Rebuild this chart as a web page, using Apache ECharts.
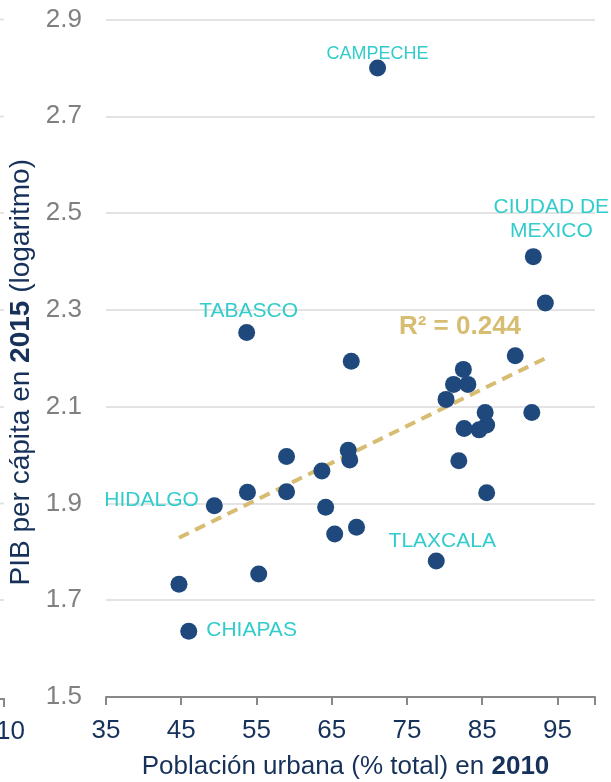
<!DOCTYPE html>
<html>
<head>
<meta charset="utf-8">
<script src="https://cdn.jsdelivr.net/npm/echarts@6/dist/echarts.min.js"></script>
<style>
  html, body { margin: 0; padding: 0; background: #ffffff; }
  #chart { width: 611px; height: 782px; }
</style>
</head>
<body>
<div id="chart"></div>
<script>
// ---- Data ----
const urbanPop = [71.1, 91.8, 93.4, 53.7, 67.6, 89.4, 82.5, 81.2, 83.1, 80.2, 85.4, 91.6, 85.6, 82.6, 84.6, 81.9, 85.6, 59.0, 67.2, 67.4, 63.7, 53.8, 59.0, 49.4, 64.2, 68.3, 65.4, 78.9, 55.3, 44.7, 46.0];
const gdpLog   = [2.800, 2.410, 2.314, 2.253, 2.194, 2.205, 2.177, 2.146, 2.146, 2.115, 2.088, 2.088, 2.062, 2.055, 2.052, 1.988, 1.922, 1.997, 2.010, 1.990, 1.967, 1.923, 1.924, 1.895, 1.892, 1.851, 1.837, 1.781, 1.754, 1.733, 1.636];
const stateLabels = ['CAMPECHE', 'CIUDAD DE\nMEXICO', '', 'TABASCO', '', '', '', '', '', '', '', '', '', '', '', '', '', '', '', '', '', '', '', 'HIDALGO', '', '', '', 'TLAXCALA', '', '', 'CHIAPAS'];
const trendX = [44.7, 93.4];
const trendY = [1.829, 2.200];
const rSquaredText = 'R² = 0.244';
const yTicks = [1.5, 1.7, 1.9, 2.1, 2.3, 2.5, 2.7, 2.9];
const xTicks = [35, 45, 55, 65, 75, 85, 95];

// ---- Styles ----
const FONT = 'Arial, "Liberation Sans", sans-serif';
const NAVY = '#1F497D';
const CYAN = '#33CCCC';
const TAN = '#D7BD72';
const labelStyle = {
  'CAMPECHE': { position: 'inside', offset: [0, -14], fontSize: 18 },
  'CIUDAD DE\nMEXICO': { position: 'inside', offset: [18, -37], fontSize: 21, lineHeight: 24 },
  'TABASCO': { position: 'inside', offset: [2, -21], fontSize: 21 },
  'HIDALGO': { position: 'left', distance: 7, offset: [0, -6], fontSize: 21 },
  'TLAXCALA': { position: 'inside', offset: [6, -20], fontSize: 21 },
  'CHIAPAS': { position: 'right', distance: 9, offset: [0, -1], fontSize: 21 }
};

const scatterData = urbanPop.map((x, i) => {
  const name = stateLabels[i];
  const item = { value: [x, gdpLog[i]], name: name };
  if (name) {
    const s = labelStyle[name];
    item.label = Object.assign({ show: true, formatter: '{b}', color: CYAN, fontFamily: FONT, align: 'center', verticalAlign: 'middle' }, s);
    if (s.position === 'left') item.label.align = 'right';
    if (s.position === 'right') item.label.align = 'left';
  }
  return item;
});
const trendData = trendX.map((x, i) => [x, trendY[i]]);

const chart = echarts.init(document.getElementById('chart'), null, { renderer: 'canvas' });

// left-edge fragments of the neighbouring chart
const fragLines = [19.5, 116.5, 213, 310, 407, 503.5, 600].map(y => ({
  type: 'line', shape: { x1: 0, y1: y, x2: 4, y2: y }, style: { stroke: '#E3E3E3', lineWidth: 2 }, silent: true
}));

chart.setOption({
  animation: false,
  backgroundColor: '#ffffff',
  grid: { left: 106, right: 16, top: 19.5, bottom: 85, containLabel: false, outerBoundsMode: 'none' },
  xAxis: {
    type: 'value', min: 35, max: 100, interval: 10,
    name: 'Población urbana (% total) en {b|2010}',
    nameLocation: 'middle', nameGap: 57,
    nameTextStyle: { fontSize: 26, color: '#17325A', fontFamily: FONT, padding: [0, 10, 0, 0], rich: { b: { fontSize: 26, fontWeight: 'bold', color: '#17325A', fontFamily: FONT } } },
    axisLine: { show: true, onZero: false, lineStyle: { color: '#888888', width: 2 } },
    axisTick: { show: true, length: 8, lineStyle: { color: '#888888', width: 2 } },
    axisLabel: { fontSize: 26, color: '#17325A', fontFamily: FONT, margin: 21, formatter: v => (xTicks.indexOf(v) >= 0 ? String(v) : '') },
    splitLine: { show: false }
  },
  yAxis: {
    type: 'value', min: 1.5, max: 2.9, interval: 0.2,
    name: 'PIB per cápita en {b|2015} (logaritmo)',
    nameLocation: 'middle', nameGap: 60, nameRotate: 90,
    nameTextStyle: { fontSize: 28, color: '#17325A', fontFamily: FONT, padding: [0, 28, 0, 0], rich: { b: { fontSize: 28, fontWeight: 'bold', color: '#17325A', fontFamily: FONT } } },
    axisLine: { show: false },
    axisTick: { show: false },
    axisLabel: { fontSize: 26, color: '#808080', fontFamily: FONT, margin: 24, formatter: v => { const t = yTicks.find(k => Math.abs(k - v) < 1e-6); return t !== undefined ? t.toFixed(1) : ''; } },
    splitLine: { show: true, lineStyle: { color: '#E3E3E3', width: 2 } }
  },
  series: [
    {
      type: 'line', data: trendData, showSymbol: false, z: 2,
      lineStyle: { color: TAN, width: 4, type: [11, 7] }, silent: true
    },
    {
      type: 'scatter', data: scatterData, symbolSize: 17, z: 3,
      itemStyle: { color: NAVY, opacity: 1 },
      label: { show: false }
    }
  ],
  graphic: [
    { type: 'text', x: 460, y: 327, style: { text: rSquaredText, font: 'bold 26px ' + FONT, fill: TAN, textAlign: 'center', textVerticalAlign: 'middle' }, silent: true },
    { type: 'text', x: 25, y: 732, style: { text: '10', font: '26px ' + FONT, fill: '#17325A', textAlign: 'right', textVerticalAlign: 'middle' }, silent: true },
    { type: 'line', shape: { x1: 0, y1: 699, x2: 4, y2: 699 }, style: { stroke: '#888888', lineWidth: 2 }, silent: true },
    { type: 'line', shape: { x1: 4, y1: 698, x2: 4, y2: 707 }, style: { stroke: '#888888', lineWidth: 2 }, silent: true }
  ].concat(fragLines)
});
</script>
</body>
</html>
